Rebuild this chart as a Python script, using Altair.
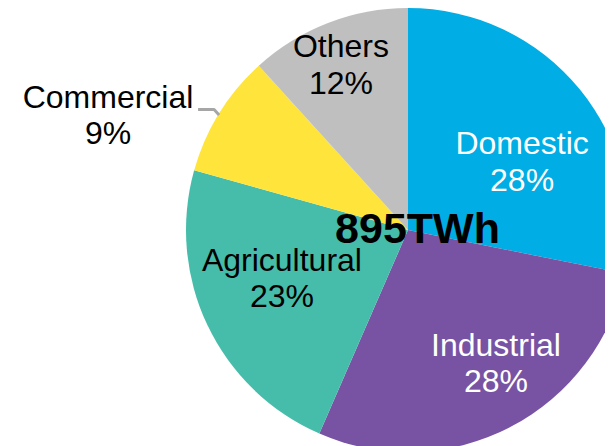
import math
import altair as alt
import pandas as pd

# ---- data (TWh, total 895) ----
categories = ["Domestic", "Industrial", "Agricultural", "Commercial", "Others"]
twh = [252, 254, 204, 80, 105]
colors = ["#00ADE4", "#7853A3", "#45BDAA", "#FFE53B", "#BFBFBF"]
label_colors = ["white", "white", "black", "black", "black"]

# ---- layout ----
W, H = 597, 438
CX, CY = 400, 222
R = 222
FONT = "Liberation Sans"
LH = 36.5
# label placement: (radius, angle in degrees from top, clockwise)
label_pos = {
    "Domestic": (132.5, 59.4),
    "Industrial": (160.3, 146.7),
    "Agricultural": (135.2, 248.8),
    "Commercial": (320.9, 290.8),
    "Others": (177.6, 337.8),
}

total = sum(twh)
df = pd.DataFrame({
    "category": categories,
    "twh": twh,
    "order": list(range(len(categories))),
})
df["pct"] = (df["twh"] / total * 100).round().astype(int)
df["label"] = df["category"] + "\n" + df["pct"].astype(str) + "%"

pie = alt.Chart(df).mark_arc(outerRadius=R, clip=True).encode(
    theta=alt.Theta("twh:Q", stack=True),
    order=alt.Order("order:Q"),
    color=alt.Color("category:N", scale=alt.Scale(domain=categories, range=colors), legend=None),
    x=alt.value(CX),
    y=alt.value(CY),
)

layers = [pie]

# leader line for Commercial, ending on the pie edge at the slice mid-angle
cum = 0
for c, s in zip(categories, twh):
    if c == "Commercial":
        mid = (cum + s / 2) / total * 2 * math.pi
        break
    cum += s
ex, ey = CX + R * math.sin(mid), CY - R * math.cos(mid)
leader = pd.DataFrame({
    "i": [0, 1, 2],
    "x": [ex - 21, ex - 5, ex],
    "y": [ey - 4, ey - 4, ey + 1.5],
})
layers.append(
    alt.Chart(leader).mark_line(color="#A6A6A6", strokeWidth=3, strokeJoin="round").encode(
        x=alt.X("x:Q", scale=None, axis=None),
        y=alt.Y("y:Q", scale=None, axis=None),
        order="i:Q",
    )
)

for c, col in zip(categories, label_colors):
    r, a = label_pos[c]
    layers.append(
        alt.Chart(df).transform_filter(alt.datum.category == c).mark_text(
            radius=r, theta=math.radians(a), fontSize=32, lineHeight=LH, dy=-LH / 2,
            color=col, baseline="middle", align="center", lineBreak="\n", font=FONT,
        ).encode(text="label:N", x=alt.value(CX), y=alt.value(CY))
    )

center = alt.Chart(pd.DataFrame({"t": [f"{total}TWh"]})).mark_text(
    fontSize=43, fontWeight="bold", dx=9.5, dy=13, baseline="alphabetic",
    align="center", font=FONT, color="black",
).encode(text="t:N", x=alt.value(CX), y=alt.value(CY))
layers.append(center)

chart = alt.layer(*layers).properties(
    width=W, height=H,
    autosize=alt.AutoSizeParams(type="none"),
    padding=0,
    background="white",
).configure_view(stroke=None)

chart.save("out.html", embed_options={"renderer": "svg", "actions": False})
